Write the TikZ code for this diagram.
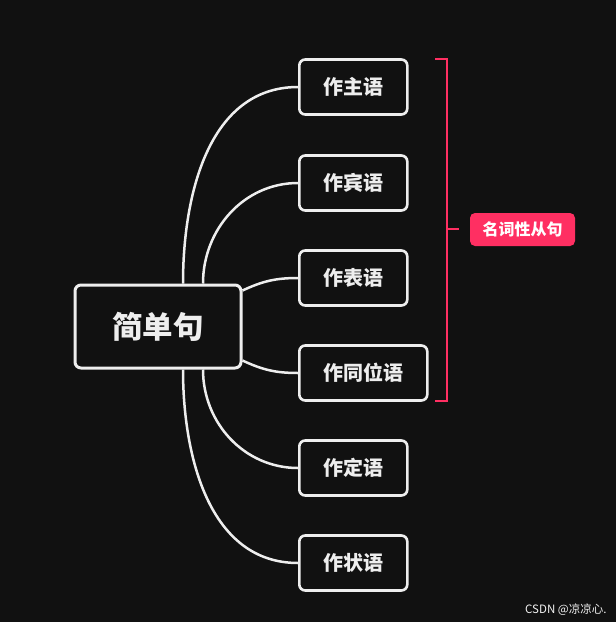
\documentclass[tikz,border=0pt]{standalone}
\usepackage{fontspec}
\newfontfamily\cjk{Noto Sans CJK SC}
\usetikzlibrary{positioning}
\definecolor{bg}{HTML}{111111}
\definecolor{ink}{HTML}{EEEEEE}
\definecolor{rose}{HTML}{FF2F62}

\begin{document}
\begin{tikzpicture}[
  x=1pt,y=1pt,
  root/.style={draw=ink,line width=3pt,rounded corners=6pt,fill=bg,text=ink,
    font=\cjk\bfseries\fontsize{30.5}{34}\selectfont,minimum width=166pt,minimum height=83pt},
  leaf/.style={draw=ink,line width=2.6pt,rounded corners=6pt,fill=bg,text=ink,
    font=\cjk\bfseries\fontsize{20}{22}\selectfont,inner xsep=24pt,minimum height=55pt,
    minimum width=107pt,anchor=west},
  tag/.style={fill=rose,rounded corners=5pt,text=white,
    font=\cjk\bfseries\fontsize{16}{18}\selectfont,minimum width=105pt,minimum height=33pt},
  link/.style={ink,line width=2.5pt},
  bracket/.style={rose,line width=2.8pt}
]
  \fill[bg] (0,0) rectangle (616,-622);
  \useasboundingbox (0,0) rectangle (616,-622);

  \node[root] (c) at (158,-326.5) {简单句};
  \foreach \i/\y/\t in {1/87/作主语,2/183/作宾语,3/278/作表语,4/373/作同位语,5/468/作定语,6/563/作状语}
    \node[leaf] (k\i) at (298,-\y) {\t};

  % links out of the root
  \draw[link] ([xshift=25pt]c.north) to[out=90,in=180] (k1.west);
  \draw[link] ([xshift=45pt]c.north) to[out=90,in=180] (k2.west);
  \draw[link] ([yshift=36pt]c.east) to[out=25,in=180] (k3.west);
  \draw[link] ([yshift=-34pt]c.east) to[out=-25,in=180] (k4.west);
  \draw[link] ([xshift=45pt]c.south) to[out=-90,in=180] (k5.west);
  \draw[link] ([xshift=25pt]c.south) to[out=-90,in=180] (k6.west);

  % bracket over the first four
  \draw[bracket] (435,-59) -| (447,-401) -- (435,-401);
  \coordinate (b) at (447,-229);
  \node[tag] (nc) at (522.5,-229.5) {名词性从句};
  \draw[bracket] (b) -- ++(12,0);

  \node[text=ink!75,font=\cjk\fontsize{11.5}{13}\selectfont,anchor=east] (wm) at (610,-610) {CSDN @凉凉心.};
\end{tikzpicture}
\end{document}
